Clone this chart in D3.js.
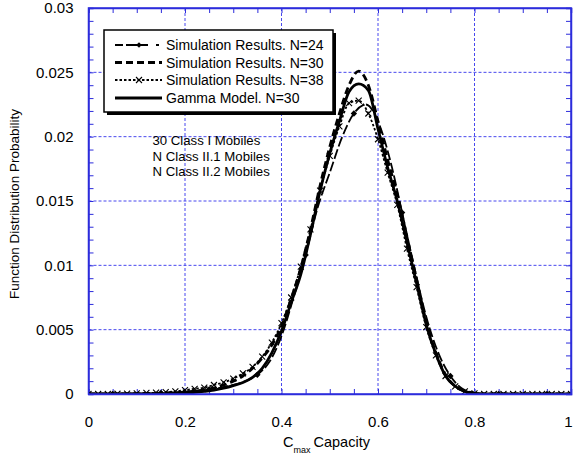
<!DOCTYPE html>
<html><head><meta charset="utf-8">
<script src="https://cdn.jsdelivr.net/npm/d3@7"></script>
<style>body{margin:0;background:#fff}svg{display:block;font-family:Arial,"Liberation Sans",sans-serif}</style>
</head><body><svg id="c" width="573" height="455"></svg>
<script>
// ---- data ----
const xGrid = [0,0.02,0.04,0.06,0.08,0.10,0.12,0.14,0.16,0.18,0.20,0.22,0.24,0.26,0.28,0.30,0.32,0.34,0.36,0.38,0.40,0.42,0.44,0.46,0.48,0.50,0.52,0.54,0.56,0.58,0.60,0.62,0.64,0.66,0.68,0.70,0.72,0.74,0.76,0.78,0.80,0.82,0.84,0.86,0.88,0.90,0.92,0.94,0.96,0.98,1.00];
const gammaN30 = [0,0,0,0,0,0,0,0.00001,0.00002,0.00004,0.00007,0.00012,0.0002,0.0003,0.00045,0.00065,0.0009,0.0013,0.002,0.0032,0.0049,0.0071,0.0093,0.0124,0.0158,0.0187,0.0212,0.0235,0.0241,0.0236,0.0206,0.0176,0.0150,0.0118,0.0086,0.0054,0.0031,0.0014,0.0006,0.0002,0.00005,0,0,0,0,0,0,0,0,0,0];
const simN30 = [0,0,0,0,0,0,0.00002,0.00004,0.00007,0.0001,0.00015,0.00022,0.0003,0.00045,0.0007,0.001,0.0014,0.002,0.0028,0.0038,0.0053,0.0074,0.0098,0.0128,0.0162,0.0192,0.0218,0.0240,0.0251,0.0240,0.0212,0.0182,0.0155,0.0122,0.0089,0.0056,0.0032,0.0015,0.0006,0.0002,0.00005,0,0,0,0,0,0,0,0,0,0];
const simN38 = [0,0,0,0.00002,0.00003,0.00005,0.00008,0.0001,0.00015,0.0002,0.0003,0.0004,0.0005,0.0007,0.0009,0.0012,0.0016,0.0021,0.0029,0.004,0.0055,0.0075,0.0099,0.0128,0.0158,0.0185,0.0208,0.0226,0.0228,0.0218,0.0198,0.0172,0.0147,0.0113,0.0083,0.0052,0.0030,0.0014,0.0006,0.0002,0.00005,0,0,0,0,0,0,0,0,0,0];
const xGrid24 = [0,0.025,0.05,0.075,0.10,0.125,0.15,0.175,0.20,0.225,0.25,0.275,0.30,0.325,0.35,0.375,0.40,0.425,0.45,0.475,0.50,0.525,0.55,0.575,0.60,0.625,0.65,0.675,0.70,0.725,0.75,0.775,0.80,0.825,0.85,0.875,0.90,0.925,0.95,0.975,1.00];
const simN24 = [0,0,0.00001,0.00002,0.00003,0.00005,0.00008,0.00012,0.00018,0.00026,0.00036,0.0005,0.0007,0.001,0.0015,0.0025,0.0045,0.0075,0.0108,0.0145,0.0172,0.0199,0.0218,0.0225,0.0212,0.0182,0.0141,0.0099,0.0060,0.0032,0.0014,0.0004,0.0001,0,0,0,0,0,0,0,0];
const n24MarkerX = [0.05,0.15,0.25,0.35,0.45,0.55,0.65,0.75,0.85,0.95];
const xTicks = [0,0.2,0.4,0.6,0.8,1];
const xTickLabels = ["0","0.2","0.4","0.6","0.8","1"];
const yTicks = [0,0.005,0.01,0.015,0.02,0.025,0.03];
const yTickLabels = ["0","0.005","0.01","0.015","0.02","0.025","0.03"];
const legendLabels = ["Simulation Results. N=24","Simulation Results. N=30","Simulation Results. N=38","Gamma Model. N=30"];
const noteLines = ["30 Class I Mobiles","N Class II.1 Mobiles","N Class II.2 Mobiles"];

// ---- layout ----
const svg = d3.select("#c");
const L=88.5, R=571, T=8, B=394;
const x = d3.scaleLinear().domain([0,1]).range([L,R]);
const y = d3.scaleLinear().domain([0,0.03]).range([B,T]);
const blue="#2c2cdc", gridBlue="#4848ee";

svg.append("defs").append("clipPath").attr("id","clip")
  .append("rect").attr("x",L).attr("y",T-3).attr("width",R-L).attr("height",B-T+3);

// grid
const g = svg.append("g");
g.selectAll(".gx").data(xTicks.filter(d=>d>0&&d<1)).join("line")
  .attr("x1",d=>x(d)).attr("x2",d=>x(d)).attr("y1",T).attr("y2",B)
  .attr("stroke",gridBlue).attr("stroke-width",1).attr("stroke-dasharray","3,2");
g.selectAll(".gy").data(yTicks.filter(d=>d>0&&d<0.03)).join("line")
  .attr("y1",d=>y(d)).attr("y2",d=>y(d)).attr("x1",L).attr("x2",R)
  .attr("stroke",gridBlue).attr("stroke-width",1).attr("stroke-dasharray","3,2");

// axes with inward ticks
const xMinor = d3.range(0,1.0001,0.05);
const yMinor = d3.range(0,0.03001,0.001);
const axB = svg.append("g").attr("transform",`translate(0,${B})`)
  .call(d3.axisBottom(x).tickValues(xMinor).tickSize(-5).tickFormat(""));
const axT = svg.append("g").attr("transform",`translate(0,${T})`)
  .call(d3.axisTop(x).tickValues(xMinor).tickSize(-5).tickFormat(""));
const axL = svg.append("g").attr("transform",`translate(${L},0)`)
  .call(d3.axisLeft(y).tickValues(yMinor).tickSize(-5).tickFormat(""));
const axR = svg.append("g").attr("transform",`translate(${R},0)`)
  .call(d3.axisRight(y).tickValues(yMinor).tickSize(-5).tickFormat(""));
[axB,axT,axL,axR].forEach(a=>{a.selectAll("path").attr("stroke",blue).attr("stroke-width",1.5);a.selectAll("line").attr("stroke",blue);});

// tick labels
const xl = svg.append("g").attr("transform",`translate(0,${B})`)
  .call(d3.axisBottom(x).tickValues(xTicks).tickSize(0).tickPadding(22).tickFormat((d,i)=>xTickLabels[i]));
xl.select("path").remove();
xl.selectAll("text").attr("font-size",15).attr("font-family","Arial,'Liberation Sans',sans-serif").attr("fill","#000");
xl.selectAll(".tick").filter(d=>d===1).select("text").attr("dx",-3);
const yl = svg.append("g").attr("transform",`translate(${L},0)`)
  .call(d3.axisLeft(y).tickValues(yTicks).tickSize(0).tickPadding(15).tickFormat((d,i)=>yTickLabels[i]));
yl.select("path").remove();
yl.selectAll("text").attr("font-size",15).attr("font-family","Arial,'Liberation Sans',sans-serif").attr("fill","#000");

// axis titles
svg.append("text").attr("transform","translate(19,204) rotate(-90)").attr("text-anchor","middle")
  .attr("font-size",13.5).text("Function Distribution Probability");
const xt = svg.append("text").attr("x",283).attr("y",447).attr("font-size",14.5);
xt.append("tspan").text("C");
xt.append("tspan").attr("font-size",9).attr("dy",6).text("max");
xt.append("tspan").attr("dy",-6).attr("dx",3).text("Capacity");

// curves
const plot = svg.append("g").attr("clip-path","url(#clip)");
const line = d3.line().x(d=>x(d[0])).y(d=>y(d[1])).curve(d3.curveMonotoneX);
const s24 = xGrid24.map((v,i)=>[v,simN24[i]]);
const s30 = xGrid.map((v,i)=>[v,simN30[i]]);
const s38 = xGrid.map((v,i)=>[v,simN38[i]]);
const gm = xGrid.map((v,i)=>[v,gammaN30[i]]);
const styles = [
  {w:1.8,dash:"10,3"},
  {w:2.8,dash:"7,4"},
  {w:1.8,dash:"2.5,2"},
  {w:2.8,dash:null}
];
[s24,s30,s38,gm].forEach((s,i)=>{
  plot.append("path").datum(s).attr("d",line).attr("fill","none").attr("stroke","#000")
    .attr("stroke-width",styles[i].w).attr("stroke-dasharray",styles[i].dash);
});
// markers N=38 (x)
const xMark = (sel,cx,cy,r)=>sel.append("path").attr("d",`M${cx-r},${cy-r}L${cx+r},${cy+r}M${cx-r},${cy+r}L${cx+r},${cy-r}`)
  .attr("stroke","#000").attr("stroke-width",1.1);
s38.forEach(d=>xMark(plot,x(d[0]),y(d[1]),3));
// markers N=24 (diamonds)
const dia = (sel,cx,cy,r)=>sel.append("path").attr("d",`M${cx},${cy-r}L${cx+r},${cy}L${cx},${cy+r}L${cx-r},${cy}Z`).attr("fill","#000");
n24MarkerX.forEach(mx=>{const p=s24.find(d=>Math.abs(d[0]-mx)<1e-9); if(p) dia(plot,x(p[0]),y(p[1]),3.2);});

// frame on top
svg.append("rect").attr("x",L).attr("y",T).attr("width",R-L).attr("height",B-T)
  .attr("fill","none").attr("stroke",blue).attr("stroke-width",1.5);

// legend
const lg = svg.append("g");
lg.append("rect").attr("x",107).attr("y",33).attr("width",229).attr("height",82).attr("fill","#000");
lg.append("rect").attr("x",104).attr("y",30).attr("width",229).attr("height",82).attr("fill","#fff").attr("stroke","#000").attr("stroke-width",1.5);
const rowsY=[45,62.5,80,98];
legendLabels.forEach((t,i)=>{
  const yy=rowsY[i];
  lg.append("line").attr("x1",115).attr("x2",162).attr("y1",yy).attr("y2",yy)
    .attr("stroke","#000").attr("stroke-width",styles[i].w+0.4).attr("stroke-dasharray",i===0?"8,3,0,0,22":styles[i].dash);
  if(i===0) dia(lg,139,yy,2.8);
  if(i===2) xMark(lg,139,yy,3);
  lg.append("text").attr("x",166).attr("y",yy).attr("dy","0.36em").attr("font-size",14).text(t);
});

// annotation
noteLines.forEach((t,i)=>svg.append("text").attr("x",152.5).attr("y",145+i*15.5).attr("font-size",13.2).text(t));
</script></body></html>
